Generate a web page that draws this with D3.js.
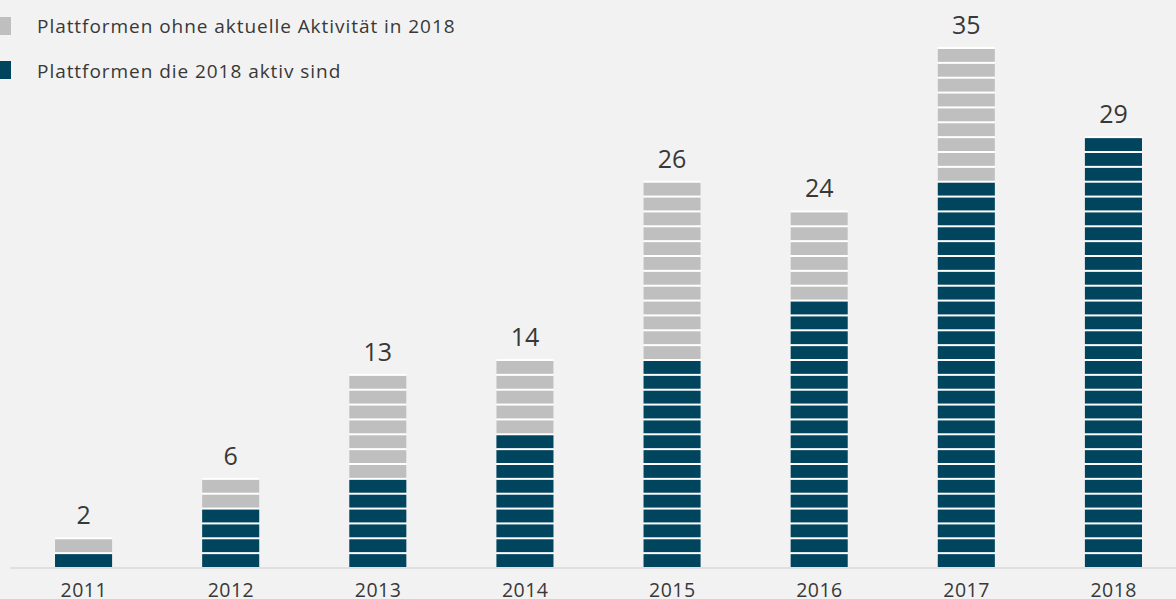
<!DOCTYPE html>
<html>
<head>
<meta charset="utf-8">
<script src="https://d3js.org/d3.v7.min.js"></script>
<style>
  body { margin: 0; background: #f2f2f2; }
  text { font-family: "Open Sans", sans-serif; fill: #383838; }
</style>
</head>
<body>
<svg width="1176" height="599"></svg>
<script>
const years = ["2011","2012","2013","2014","2015","2016","2017","2018"];
const active = [1, 4, 6, 9, 14, 18, 26, 29];
const inactive = [1, 2, 7, 5, 12, 6, 9, 0];
const legendLabels = ["Plattformen ohne aktuelle Aktivität in 2018", "Plattformen die 2018 aktiv sind"];

const colDark = "#00445e";
const colGray = "#bfbfbf";

const svg = d3.select("svg");
svg.append("rect").attr("width",1176).attr("height",599).attr("fill","#f2f2f2");

const data = years.map((y,i) => ({year:y, active:active[i], inactive:inactive[i], total:active[i]+inactive[i]}));

const xScale = d3.scaleBand()
  .domain(years)
  .range([10, 1187])
  .paddingInner(0.612)
  .paddingOuter(0.306);

const yScale = d3.scaleLinear()
  .domain([0, 35])
  .range([567, 47]);

// baseline
svg.append("line")
  .attr("x1",10).attr("x2",1176)
  .attr("y1",568).attr("y2",568)
  .attr("stroke","#d9d9d9").attr("stroke-width",1.5);

// one rect per platform
const units = [];
data.forEach(d => {
  for (let i = 0; i < d.total; i++) {
    units.push({year:d.year, i:i, on: i < d.active});
  }
});

const g = svg.append("g");
g.selectAll(".bg")
  .data(data)
  .enter()
  .append("rect")
  .attr("x", d => xScale(d.year))
  .attr("width", xScale.bandwidth())
  .attr("y", d => yScale(d.total))
  .attr("height", d => yScale(0) - yScale(d.total))
  .attr("fill","#fff");

g.selectAll(".unit")
  .data(units)
  .enter()
  .append("rect")
  .attr("class","unit")
  .attr("x", d => xScale(d.year))
  .attr("width", xScale.bandwidth())
  .attr("y", d => yScale(d.i+1) + 2)
  .attr("height", d => yScale(d.i) - yScale(d.i+1) - 2)
  .attr("fill", d => d.on ? colDark : colGray);

// value labels
svg.selectAll(".val")
  .data(data)
  .enter()
  .append("text")
  .attr("x", d => xScale(d.year) + xScale.bandwidth()/2)
  .attr("y", d => yScale(d.total) - 13)
  .attr("text-anchor","middle")
  .style("font-size","25px")
  .text(d => d.total);

// x labels
svg.selectAll(".xl")
  .data(years)
  .enter()
  .append("text")
  .attr("x", d => xScale(d) + xScale.bandwidth()/2 + 0.25)
  .attr("y", 597)
  .attr("text-anchor","middle")
  .style("font-size","19.5px")
  .style("letter-spacing","0.5px")
  .text(d => d);

// legend
const legendColors = [colGray, colDark];
legendLabels.forEach((t,i) => {
  svg.append("rect")
    .attr("x",0).attr("y",17 + i*44)
    .attr("width",11).attr("height",18)
    .attr("fill",legendColors[i]);
  svg.append("text")
    .attr("x",37).attr("y",33 + i*45)
    .style("font-size","19px")
    .style("letter-spacing","0.95px")
    .text(t);
});
</script>
</body>
</html>
